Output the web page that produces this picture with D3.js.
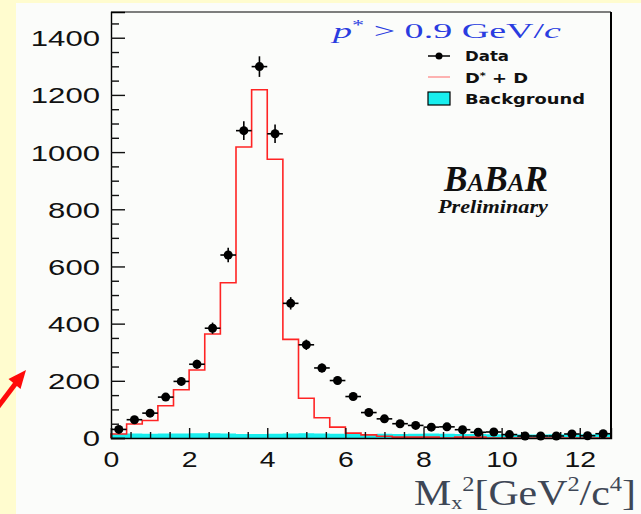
<!DOCTYPE html>
<html>
<head>
<meta charset="utf-8">
<script src="https://cdn.jsdelivr.net/npm/d3@7"></script>
<style>
  html, body { margin: 0; padding: 0; background: #fffccf; }
  svg { display: block; }
</style>
</head>
<body>
<svg id="chart" width="641" height="514"></svg>
<script>
// ---------- data (32 bins of width 0.4 GeV^2/c^4, 0 .. 12.8) ----------
const binEdgesStart = 0;
const binWidth = 0.4;
const dataCounts = [30, 64, 87, 143, 198, 258, 384, 640, 1075, 1299, 1064, 471, 326, 245, 201, 145,
                    89, 67, 50, 44, 38, 39, 29, 20, 21, 12, 7, 7, 7, 14, 8, 15];
const signalDD = [14, 49, 61, 113, 169, 238, 364, 543, 1018, 1218, 975, 345, 139, 71, 38, 17,
                  11, 6, 3, 3, 3, 0, 3, 3, 0, 0, 0, 0, 0, 0, 0, 0];
const background = [15, 16, 15, 16, 16, 17, 17, 16, 14, 14, 15, 16, 17, 16, 15, 15,
                    14, 15, 14, 15, 16, 15, 14, 14, 13, 13, 12, 12, 13, 13, 13, 15];
const yTickValues = [0, 200, 400, 600, 800, 1000, 1200, 1400];
const xTickValues = [0, 2, 4, 6, 8, 10, 12];
const legendLabels = ["Data", "D* + D", "Background"];

// ---------- layout ----------
const svg = d3.select("#chart");
const W = 641, H = 514;
const plot = { left: 111, right: 611, top: 12, bottom: 438 };

svg.append("rect").attr("x", 0).attr("y", 0).attr("width", W).attr("height", H).attr("fill", "#fffccf");
svg.append("rect").attr("x", 16).attr("y", 3).attr("width", W - 16).attr("height", H - 3).attr("fill", "#fbfcfa");

const x = d3.scaleLinear().domain([0, 12.8]).range([plot.left, plot.right]);
const y = d3.scaleLinear().domain([0, 1490]).range([plot.bottom, plot.top]);

const bins = dataCounts.map((d, i) => ({
  lo: binEdgesStart + i * binWidth,
  hi: binEdgesStart + (i + 1) * binWidth,
  mid: binEdgesStart + (i + 0.5) * binWidth,
  data: d, sig: signalDD[i], bkg: background[i]
}));

// background fill (cyan step histogram)
function stepPath(key) {
  let p = `M${x(0)},${y(0)}`;
  bins.forEach(b => { p += `V${y(b[key])}H${x(b.hi)}`; });
  p += `V${y(0)}`;
  return p;
}
svg.append("path").attr("d", stepPath("bkg") + "Z").attr("fill", "#18eeee").attr("stroke", "none");

// signal step line
svg.append("path").attr("d", stepPath("sig")).attr("fill", "none")
  .attr("stroke", "#ff2424").attr("stroke-width", 1.6);

// ---------- axes ----------
const yAxis = d3.axisLeft(y).tickValues(yTickValues).tickSize(-14).tickPadding(0).tickFormat(d3.format("d"));
const yMinor = d3.axisLeft(y).tickValues(d3.range(0, 1451, 50).filter(v => v % 200 !== 0)).tickSize(-8).tickFormat("");
const xAxis = d3.axisBottom(x).tickValues(xTickValues).tickSize(-10).tickPadding(0).tickFormat(d3.format("d"));
const xMinor = d3.axisBottom(x).tickValues(d3.range(0.5, 12.8, 0.5).filter(v => v % 2 !== 0)).tickSize(-6).tickFormat("");

const gy = svg.append("g").attr("transform", `translate(${plot.left},0)`).call(yAxis);
svg.append("g").attr("transform", `translate(${plot.left},0)`).call(yMinor).select(".domain").remove();
const gx = svg.append("g").attr("transform", `translate(0,${plot.bottom})`).call(xAxis);
svg.append("g").attr("transform", `translate(0,${plot.bottom})`).call(xMinor).select(".domain").remove();

svg.selectAll(".tick line").attr("stroke", "#111").attr("stroke-width", 1.4);
gy.select(".domain").attr("stroke", "#000").attr("stroke-width", 1.4);
gx.select(".domain").attr("stroke", "#000").attr("stroke-width", 1.4);

gy.selectAll(".tick text")
  .attr("x", -11).attr("dy", "0.36em")
  .attr("font-family", "Liberation Sans, Arial, sans-serif").attr("font-size", 22)
  .attr("fill", "#111")
  .attr("textLength", d => String(d).length * 17.3).attr("lengthAdjust", "spacingAndGlyphs");
gx.selectAll(".tick text")
  .attr("y", 29).attr("dy", 0)
  .attr("font-family", "Liberation Sans, Arial, sans-serif").attr("font-size", 22)
  .attr("fill", "#111")
  .attr("textLength", d => String(d).length * 15.8).attr("lengthAdjust", "spacingAndGlyphs");

// frame top & right
svg.append("line").attr("x1", plot.left).attr("x2", plot.right).attr("y1", plot.top).attr("y2", plot.top)
  .attr("stroke", "#000").attr("stroke-width", 1.2);
svg.append("line").attr("x1", plot.right).attr("x2", plot.right).attr("y1", plot.top).attr("y2", plot.bottom)
  .attr("stroke", "#000").attr("stroke-width", 2);

// ---------- data points ----------
const pts = svg.append("g");
bins.forEach(b => {
  const e = Math.sqrt(b.data);
  pts.append("line").attr("x1", x(b.lo)).attr("x2", x(b.hi)).attr("y1", y(b.data)).attr("y2", y(b.data))
    .attr("stroke", "#000").attr("stroke-width", 1.6);
  pts.append("line").attr("x1", x(b.mid)).attr("x2", x(b.mid)).attr("y1", y(b.data + e)).attr("y2", y(Math.max(0, b.data - e)))
    .attr("stroke", "#000").attr("stroke-width", 1.6);
  pts.append("circle").attr("cx", x(b.mid)).attr("cy", y(b.data)).attr("r", 4.5).attr("fill", "#000");
});

// ---------- legend ----------
const leg = svg.append("g");
const legFont = "DejaVu Sans, Verdana, sans-serif";
leg.append("line").attr("x1", 428).attr("x2", 450).attr("y1", 56).attr("y2", 56).attr("stroke", "#000").attr("stroke-width", 1.5);
leg.append("circle").attr("cx", 439).attr("cy", 56).attr("r", 3.5).attr("fill", "#000");
leg.append("line").attr("x1", 428).attr("x2", 450).attr("y1", 77).attr("y2", 77).attr("stroke", "#ff8080").attr("stroke-width", 1.2);
leg.append("rect").attr("x", 428).attr("y", 92).attr("width", 22).attr("height", 13)
  .attr("fill", "#18eeee").attr("stroke", "#000").attr("stroke-width", 1.2);

leg.append("text").attr("x", 465).attr("y", 61).attr("font-family", legFont).attr("font-weight", "bold")
  .attr("font-size", 14).attr("fill", "#111").attr("textLength", 44).attr("lengthAdjust", "spacingAndGlyphs")
  .text(legendLabels[0]);
const t2 = leg.append("text").attr("x", 465).attr("y", 83).attr("font-family", legFont).attr("font-weight", "bold")
  .attr("font-size", 14).attr("fill", "#111").attr("textLength", 63).attr("lengthAdjust", "spacingAndGlyphs");
t2.append("tspan").text("D");
t2.append("tspan").attr("dy", -4).attr("font-size", 9).text("*");
t2.append("tspan").attr("dy", 4).text(" + D");
leg.append("text").attr("x", 465).attr("y", 104).attr("font-family", legFont).attr("font-weight", "bold")
  .attr("font-size", 14).attr("fill", "#111").attr("textLength", 120).attr("lengthAdjust", "spacingAndGlyphs")
  .text(legendLabels[2]);

// cut label
const cut = svg.append("text").attr("x", 333).attr("y", 38)
  .attr("font-family", "Liberation Serif, Times New Roman, serif").attr("font-size", 22).attr("fill", "#2a3ce0")
  .attr("textLength", 228).attr("lengthAdjust", "spacingAndGlyphs");
cut.append("tspan").attr("font-style", "italic").text("p");
cut.append("tspan").attr("dy", -8).attr("font-size", 14).text("*");
cut.append("tspan").attr("dy", 8).text(" > 0.9 GeV/");
cut.append("tspan").attr("font-style", "italic").text("c");

// BaBar logo
const babar = svg.append("text").attr("x", 444).attr("y", 191)
  .attr("font-family", "Liberation Serif, Times New Roman, serif").attr("font-weight", "bold")
  .attr("font-style", "italic").attr("fill", "#111")
  .attr("textLength", 104).attr("lengthAdjust", "spacingAndGlyphs");
[["B", 35], ["A", 25], ["B", 35], ["A", 25], ["R", 35]].forEach(([c, s]) => {
  babar.append("tspan").attr("font-size", s).text(c);
});
svg.append("text").attr("x", 438).attr("y", 213)
  .attr("font-family", "Liberation Serif, Times New Roman, serif").attr("font-weight", "bold")
  .attr("font-style", "italic").attr("font-size", 19).attr("fill", "#111")
  .attr("textLength", 110).attr("lengthAdjust", "spacingAndGlyphs")
  .text("Preliminary");

// axis title
const xt = svg.append("text").attr("x", 414).attr("y", 505)
  .attr("font-family", "Liberation Serif, Times New Roman, serif").attr("font-size", 36).attr("fill", "#3e4756")
  .attr("textLength", 222).attr("lengthAdjust", "spacingAndGlyphs");
xt.append("tspan").text("M");
xt.append("tspan").attr("dy", 4).attr("font-size", 19).text("x");
xt.append("tspan").attr("dy", -18).attr("font-size", 21).text("2");
xt.append("tspan").attr("dy", 14).text("[GeV");
xt.append("tspan").attr("dy", -14).attr("font-size", 21).text("2");
xt.append("tspan").attr("dy", 14).text("/c");
xt.append("tspan").attr("dy", -14).attr("font-size", 21).text("4");
xt.append("tspan").attr("dy", 14).text("]");

// red annotation arrow (decorative, from the slide)
svg.append("line").attr("x1", -3).attr("y1", 408).attr("x2", 16).attr("y2", 383)
  .attr("stroke", "#ff0a0a").attr("stroke-width", 5);
svg.append("path").attr("d", "M26,370 L8.5,379 L20.5,389 Z").attr("fill", "#ff0a0a");
</script>
</body>
</html>
